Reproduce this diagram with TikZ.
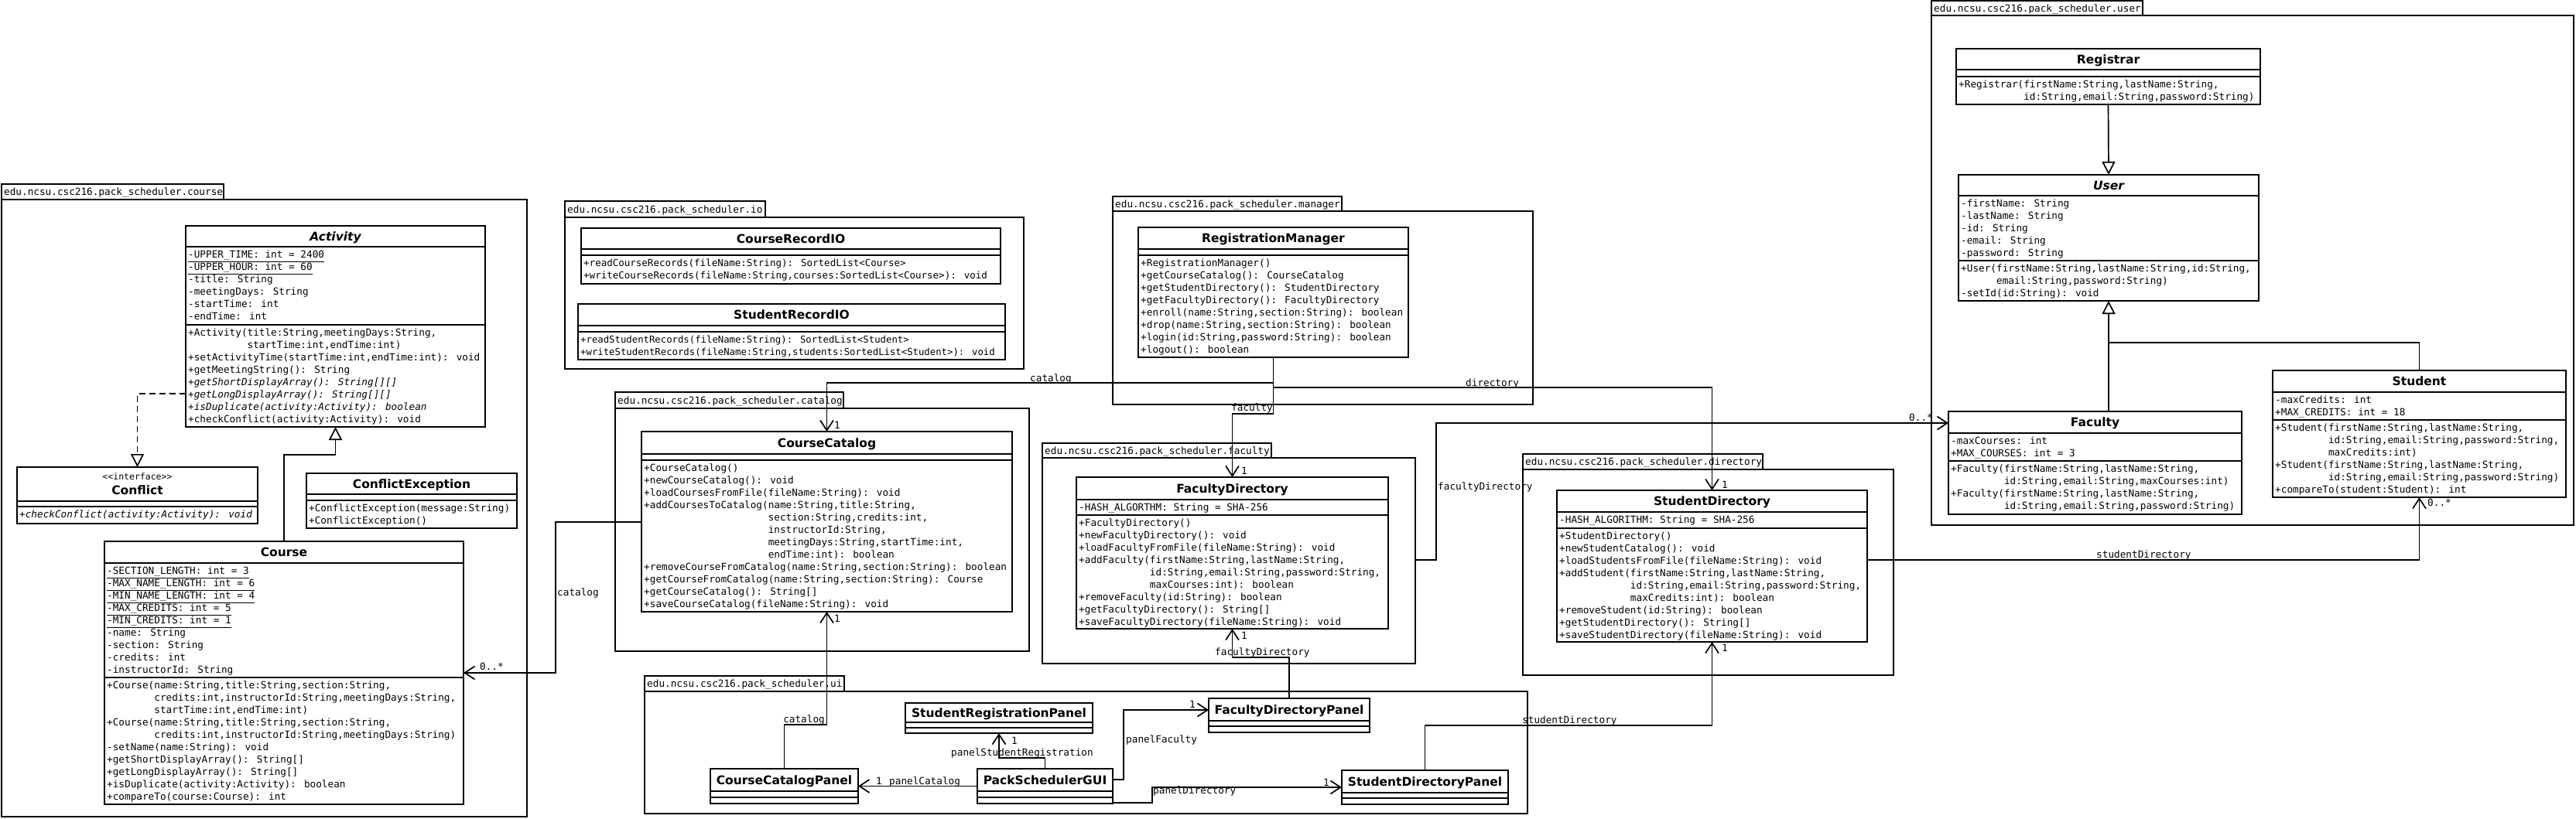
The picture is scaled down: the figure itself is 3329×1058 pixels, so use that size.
\documentclass[tikz,border=0pt]{standalone}
\usepackage{fontspec}
\setmainfont{DejaVu Sans}
\newfontfamily\monof{DejaVu Sans Mono}
\usetikzlibrary{arrows.meta}
\newcommand\mono{\monof\fontsize{12.7}{16}\selectfont}
\newcommand\ttl{\fontsize{15.5}{18}\selectfont\bfseries}
\tikzset{
 clsbox/.style={draw, line width=2pt, fill=white, inner sep=0pt, outer sep=0pt},
 clsline/.style={line width=2pt},
 pkgbox/.style={draw, line width=2pt, inner sep=0pt, outer sep=0pt},
 ttltext/.style={inner sep=0pt, font=\ttl},
 lbl/.style={inner sep=0pt, font=\mono},
 conn/.style={line width=1.7pt},
 assoc/.style={conn, -{Straight Barb[length=13pt,width=17pt]}},
 gen/.style={conn, -{Triangle[open,length=17pt,width=17pt,fill=white]}},
 real/.style={conn, dash pattern=on 8pt off 5pt, -{Triangle[open,length=17pt,width=17pt,fill=white]}},
}
% #1 name #2 x1 #3 y1 #4 x2 #5 y2 #6 sep1 #7 sep2 #8 title
\newcommand\umlclass[8]{%
 \node[clsbox, anchor=north west, minimum width={(#4-#2)*1pt}, minimum height={(#5-#3)*1pt}] (#1) at (#2,#3) {};
 \draw[clsline] (#2,#6) -- (#4,#6) (#2,#7) -- (#4,#7);
 \node[ttltext, anchor=base] (#1ttl) at ({(#2+#4)/2},{(#3+#6)/2+5.7}) {#8};
}
% [#1 font size] #2 name #3 x #4 compartment top #5 lines
\newcommand\members[5][12.7]{%
 \node[anchor=base west, inner sep=0pt] (#2) at ({#3+3},{#4+14.5}) {\parbox[t]{600pt}{\monof\fontsize{#1}{16}\selectfont #5}};
}
% #1 name #2 x1 #3 tab top #4 tab right #5 body top #6 body right #7 body bottom #8 text
\newcommand\pkg[8]{%
 \node[pkgbox, anchor=north west, minimum width={(#4-#2)*1pt}, minimum height={(#5-#3)*1pt}] (#1tab) at (#2,#3) {};
 \node[lbl, anchor=base west] (#1txt) at ({#2+3},{(#3+#5)/2+4.6}) {#8};
 \node[pkgbox, anchor=north west, minimum width={(#6-#2)*1pt}, minimum height={(#7-#5)*1pt}] (#1) at (#2,#5) {};
}
\begin{document}
\begin{tikzpicture}[x=1pt,y=-1pt]
\useasboundingbox[fill=white] (0,0) rectangle (3329,1058);
% packages
\pkg{pcourse}{2}{238}{289}{258}{681}{1056}{edu.ncsu.csc216.pack\_scheduler.course}
\pkg{pio}{730}{260}{989}{281}{1323}{477}{edu.ncsu.csc216.pack\_scheduler.io}
\pkg{pman}{1438}{254}{1734}{273}{1981}{523}{edu.ncsu.csc216.pack\_scheduler.manager}
\pkg{pcat}{795}{507}{1090}{528}{1330}{842}{edu.ncsu.csc216.pack\_scheduler.catalog}
\pkg{pfac}{1347}{573}{1643}{592}{1829}{858}{edu.ncsu.csc216.pack\_scheduler.faculty}
\pkg{pdir}{1968}{587}{2278}{607}{2447}{873}{edu.ncsu.csc216.pack\_scheduler.directory}
\pkg{puser}{2496}{1}{2769}{20}{3326}{679}{edu.ncsu.csc216.pack\_scheduler.user}
\pkg{pui}{833}{874}{1091}{894}{1974}{1052}{edu.ncsu.csc216.pack\_scheduler.ui}

% course package
\umlclass{act}{240}{292}{627}{552}{319}{420}{\itshape Activity}
\members{acta}{240}{319}{\underline{-UPPER\_TIME: int = 2400}\\\underline{-UPPER\_HOUR: int = 60}\\-title: String\\-meetingDays: String\\-startTime: int\\-endTime: int}
\members{actm}{240}{420}{+Activity(title:String,meetingDays:String,\\\phantom{+Activity(}startTime:int,endTime:int)\\+setActivityTime(startTime:int,endTime:int): void\\+getMeetingString(): String\\\textit{+getShortDisplayArray(): String[][]}\\\textit{+getLongDisplayArray(): String[][]}\\\textit{+isDuplicate(activity:Activity): boolean}\\+checkConflict(activity:Activity): void}

\umlclass{conf}{22}{604}{333}{677}{648}{655}{}
\node[lbl, font=\monof\fontsize{11.5}{14}\selectfont, anchor=base] (confst) at (177.5,620.5) {<<interface>>};
\node[ttltext, anchor=base] (confn) at (177.5,639.7) {Conflict};
\members{confm}{22}{655}{\textit{+checkConflict(activity:Activity): void}}

\umlclass{cex}{396}{612}{668}{683}{639}{647}{ConflictException}
\members{cexm}{396}{647}{+ConflictException(message:String)\\+ConflictException()}

\umlclass{course}{135}{700}{599}{1040}{728}{876}{Course}
\members{coursea}{135}{728}{\underline{-SECTION\_LENGTH: int = 3}\\\underline{-MAX\_NAME\_LENGTH: int = 6}\\\underline{-MIN\_NAME\_LENGTH: int = 4}\\\underline{-MAX\_CREDITS: int = 5}\\\underline{-MIN\_CREDITS: int = 1}\\-name: String\\-section: String\\-credits: int\\-instructorId: String}
\members{coursem}{135}{876}{+Course(name:String,title:String,section:String,\\\phantom{+Course(}credits:int,instructorId:String,meetingDays:String,\\\phantom{+Course(}startTime:int,endTime:int)\\+Course(name:String,title:String,section:String,\\\phantom{+Course(}credits:int,instructorId:String,meetingDays:String)\\-setName(name:String): void\\+getShortDisplayArray(): String[]\\+getLongDisplayArray(): String[]\\+isDuplicate(activity:Activity): boolean\\+compareTo(course:Course): int}

% io package
\umlclass{crio}{751}{295}{1293}{367}{322}{330}{CourseRecordIO}
\members[12.5]{criom}{751}{330}{+readCourseRecords(fileName:String): SortedList<Course>\\+writeCourseRecords(fileName:String,courses:SortedList<Course>): void}
\umlclass{srio}{747}{393}{1299}{465}{421}{429}{StudentRecordIO}
\members[12.3]{sriom}{747}{429}{+readStudentRecords(fileName:String): SortedList<Student>\\+writeStudentRecords(fileName:String,students:SortedList<Student>): void}

% manager
\umlclass{rm}{1471}{294}{1820}{462}{322}{330}{RegistrationManager}
\members{rmm}{1471}{330}{+RegistrationManager()\\+getCourseCatalog(): CourseCatalog\\+getStudentDirectory(): StudentDirectory\\+getFacultyDirectory(): FacultyDirectory\\+enroll(name:String,section:String): boolean\\+drop(name:String,section:String): boolean\\+login(id:String,password:String): boolean\\+logout(): boolean}

% catalog
\umlclass{cc}{829}{558}{1308}{791}{587}{595}{CourseCatalog}
\members{ccm}{829}{595}{+CourseCatalog()\\+newCourseCatalog(): void\\+loadCoursesFromFile(fileName:String): void\\+addCoursesToCatalog(name:String,title:String,\\\phantom{+addCoursesToCatalog(}section:String,credits:int,\\\phantom{+addCoursesToCatalog(}instructorId:String,\\\phantom{+addCoursesToCatalog(}meetingDays:String,startTime:int,\\\phantom{+addCoursesToCatalog(}endTime:int): boolean\\+removeCourseFromCatalog(name:String,section:String): boolean\\+getCourseFromCatalog(name:String,section:String): Course\\+getCourseCatalog(): String[]\\+saveCourseCatalog(fileName:String): void}

% faculty
\umlclass{fd}{1391}{617}{1794}{813}{646}{666}{FacultyDirectory}
\members{fda}{1391}{646}{-HASH\_ALGORTHM: String = SHA-256}
\members{fdm}{1391}{666}{+FacultyDirectory()\\+newFacultyDirectory(): void\\+loadFacultyFromFile(fileName:String): void\\+addFaculty(firstName:String,lastName:String,\\\phantom{+addFaculty(}id:String,email:String,password:String,\\\phantom{+addFaculty(}maxCourses:int): boolean\\+removeFaculty(id:String): boolean\\+getFacultyDirectory(): String[]\\+saveFacultyDirectory(fileName:String): void}

% directory
\umlclass{sd}{2012}{634}{2413}{830}{662}{683}{StudentDirectory}
\members{sda}{2012}{662}{-HASH\_ALGORITHM: String = SHA-256}
\members{sdm}{2012}{683}{+StudentDirectory()\\+newStudentCatalog(): void\\+loadStudentsFromFile(fileName:String): void\\+addStudent(firstName:String,lastName:String,\\\phantom{+addStudent(}id:String,email:String,password:String,\\\phantom{+addStudent(}maxCredits:int): boolean\\+removeStudent(id:String): boolean\\+getStudentDirectory(): String[]\\+saveStudentDirectory(fileName:String): void}

% user
\umlclass{reg}{2528}{63}{2921}{135}{90}{99}{Registrar}
\members{regm}{2528}{99}{+Registrar(firstName:String,lastName:String,\\\phantom{+Registrar(}id:String,email:String,password:String)}
\umlclass{user}{2531}{226}{2919}{389}{253}{337}{\itshape User}
\members{usera}{2531}{253}{-firstName: String\\-lastName: String\\-id: String\\-email: String\\-password: String}
\members{userm}{2531}{337}{+User(firstName:String,lastName:String,id:String,\\\phantom{+User(}email:String,password:String)\\-setId(id:String): void}
\umlclass{fac}{2518}{532}{2897}{665}{560}{596}{Faculty}
\members{faca}{2518}{560}{-maxCourses: int\\+MAX\_COURSES: int = 3}
\members{facm}{2518}{596}{+Faculty(firstName:String,lastName:String,\\\phantom{+Faculty(}id:String,email:String,maxCourses:int)\\+Faculty(firstName:String,lastName:String,\\\phantom{+Faculty(}id:String,email:String,password:String)}
\umlclass{stu}{2937}{479}{3316}{643}{507}{543}{Student}
\members{stua}{2937}{507}{-maxCredits: int\\+MAX\_CREDITS: int = 18}
\members{stum}{2937}{543}{+Student(firstName:String,lastName:String,\\\phantom{+Student(}id:String,email:String,password:String,\\\phantom{+Student(}maxCredits:int)\\+Student(firstName:String,lastName:String,\\\phantom{+Student(}id:String,email:String,password:String)\\+compareTo(student:Student): int}

% ui
\umlclass{srp}{1170}{909}{1412}{948}{934}{941}{StudentRegistrationPanel}
\umlclass{ccp}{918}{994}{1109}{1039}{1023}{1031}{CourseCatalogPanel}
\umlclass{psg}{1263}{994}{1438}{1039}{1023}{1031}{PackSchedulerGUI}
\umlclass{fdp}{1562}{903}{1770}{947}{932}{939}{FacultyDirectoryPanel}
\umlclass{sdp}{1734}{996}{1949}{1040}{1025}{1032}{StudentDirectoryPanel}

% connectors
\draw[real] (act.west |- 0,509) -| (conf.north);
\draw[gen] (course.north) -- (course.north |- 0,588) -| (act.south);
\draw[assoc] (cc.west |- 0,675) -| (718,870) -- (course.east |- 0,870);
\draw[assoc] (rm.south) -- (rm.south |- 0,495) -| (cc.north);
\draw[assoc] (rm.south) -- (rm.south |- 0,501) -| (sd.north);
\draw[assoc] (rm.south) -- (rm.south |- 0,535) -| (fd.north);
\draw[assoc] (pfac.east |- 0,724) -| (1856,547) -- (fac.west |- 0,547);
\draw[assoc] (sd.east |- 0,724) -| (stu.south);
\draw[gen] (reg.south) -- (user.north);
\draw[gen] (user.south |- fac.north) -- (user.south);
\draw[conn] (stu.north) |- (user.south |- 0,443);
\draw[assoc] (ccp.north) -- (ccp.north |- 0,937) -| (cc.south);
\draw[assoc] (psg.west) -- (ccp.east);
\draw[assoc] (psg.north) -- (psg.north |- 0,980) -| (srp.south);
\draw[assoc] (psg.east |- 0,1008) -| (1452,918) -- (fdp.west |- 0,918);
\draw[assoc] (psg.east |- 0,1038) -| (1489,1018) -- (sdp.west |- 0,1018);
\draw[assoc] (fdp.north) -- (fdp.north |- 0,850) -| (fd.south);
\draw[assoc] (sdp.north) -- (sdp.north |- 0,938) -| (sd.south);

% connector labels
\node[lbl, anchor=base west] (l1) at (720,770.6) {catalog};
\node[lbl, anchor=base west] (l2) at (620,866.5) {0..*};
\node[lbl, anchor=base west] (l3) at (1331,493.6) {catalog};
\node[lbl, anchor=base west] (l4) at (1078,554.6) {1};
\node[lbl, anchor=base west] (l5) at (1894,499.6) {directory};
\node[lbl, anchor=base west] (l6) at (2225,631.6) {1};
\node[lbl, anchor=base east] (l7) at (1645,531.6) {faculty};
\node[lbl, anchor=base west] (l8) at (1604,613.6) {1};
\node[lbl, anchor=base west] (l9) at (1858,633.6) {facultyDirectory};
\node[lbl, anchor=base west] (l10) at (2467,544.6) {0..*};
\node[lbl, anchor=base west] (l11) at (2709,721.6) {studentDirectory};
\node[lbl, anchor=base west] (l12) at (3137,654.6) {0..*};
\node[lbl, anchor=base east] (l13) at (1066,934.6) {catalog};
\node[lbl, anchor=base west] (l14) at (1078,804.6) {1};
\node[lbl, anchor=base west] (l15) at (1570,847.6) {facultyDirectory};
\node[lbl, anchor=base west] (l16) at (1604,826.6) {1};
\node[lbl, anchor=base west] (l17) at (1967,935.6) {studentDirectory};
\node[lbl, anchor=base west] (l18) at (2225,842.6) {1};
\node[lbl, anchor=base west] (l19) at (1307,962.6) {1};
\node[lbl, anchor=base west] (l20) at (1229,977.6) {panelStudentRegistration};
\node[lbl, anchor=base west] (l21) at (1132,1014.6) {1};
\node[lbl, anchor=base west] (l22) at (1149,1014.6) {panelCatalog};
\node[lbl, anchor=base west] (l23) at (1537,915.6) {1};
\node[lbl, anchor=base west] (l24) at (1455,960.6) {panelFaculty};
\node[lbl, anchor=base west] (l25) at (1710,1016.6) {1};
\node[lbl, anchor=base west] (l26) at (1490,1026.6) {panelDirectory};
\end{tikzpicture}
\end{document}
